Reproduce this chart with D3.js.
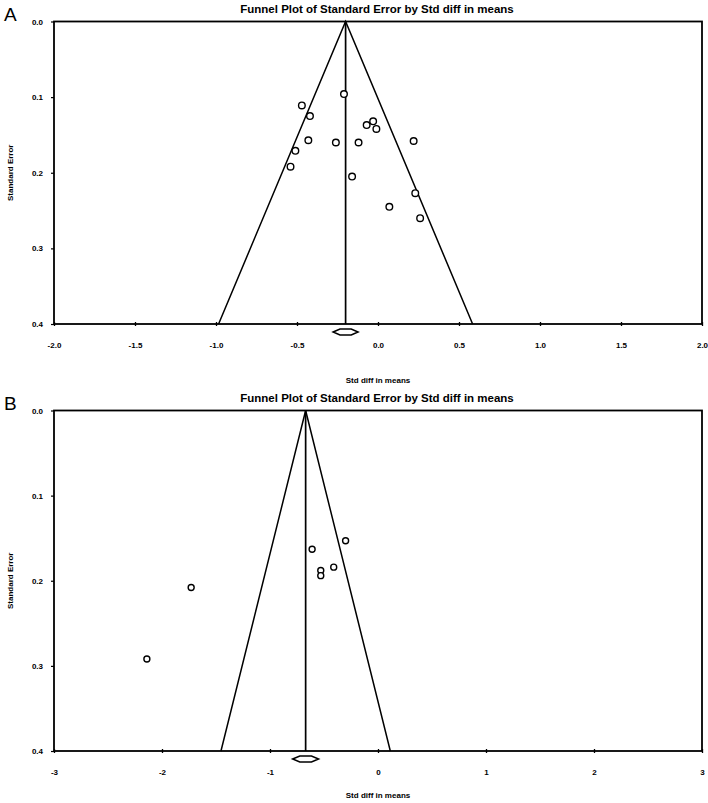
<!DOCTYPE html>
<html><head><meta charset="utf-8">
<script src="https://cdn.jsdelivr.net/npm/d3@7/dist/d3.min.js"></script>
<style>
html,body{margin:0;padding:0;background:#fff;}
svg{display:block;}
text{font-family:"Liberation Sans",Arial,sans-serif;font-weight:bold;fill:#000;}
.letter{font-family:"Liberation Sans Narrow","Liberation Sans",sans-serif;font-weight:normal;}
</style></head>
<body>
<svg id="c" width="708" height="803"></svg>
<script>
// ---- data ----
const titleText = "Funnel Plot of Standard Error by Std diff in means";
const xTitle = "Std diff in means";
const yTitle = "Standard Error";

// Panel A
const aStdDiff = [-0.21,-0.47,-0.42,-0.03,-0.07,-0.01,-0.43,-0.26,-0.12,0.22,-0.51,-0.54,-0.16,0.23,0.07,0.26];
const aSE      = [0.096,0.111,0.125,0.132,0.137,0.142,0.157,0.160,0.160,0.158,0.171,0.192,0.205,0.227,0.245,0.260];
const aPooled = -0.20;
const aPooledHalfCI = 0.077;
const aXTicks = [-2.0,-1.5,-1.0,-0.5,0.0,0.5,1.0,1.5,2.0];
const aXLabels = ["-2.0","-1.5","-1.0","-0.5","0.0","0.5","1.0","1.5","2.0"];

// Panel B
const bStdDiff = [-0.30,-0.61,-0.53,-0.53,-0.41,-1.73,-2.14];
const bSE      = [0.153,0.163,0.188,0.194,0.184,0.208,0.292];
const bPooled = -0.67;
const bPooledHalfCI = 0.12;
const bXTicks = [-3,-2,-1,0,1,2,3];
const bXLabels = ["-3","-2","-1","0","1","2","3"];

const seTicks = [0.0,0.1,0.2,0.3,0.4];
const seLabels = ["0.0","0.1","0.2","0.3","0.4"];

const svg = d3.select("#c");

function panel(cfg){
  const g = svg.append("g");
  const x = d3.scaleLinear().domain(cfg.xDomain).range([54,702]);
  const y = d3.scaleLinear().domain([0,0.4]).range([cfg.top,cfg.bottom]);

  // panel letter
  g.append("text").attr("class","letter").attr("x",4).attr("y",cfg.top-1)
    .attr("font-size",19).text(cfg.letter);
  // title
  g.append("text").attr("x",377).attr("y",cfg.top-9).attr("text-anchor","middle")
    .attr("font-size",11.5).text(titleText);

  // frame
  g.append("rect").attr("x",x.range()[0]).attr("y",cfg.top)
    .attr("width",x.range()[1]-x.range()[0]).attr("height",cfg.bottom-cfg.top)
    .attr("fill","none").attr("stroke","#000").attr("stroke-width",1.8);

  // y axis
  const yAx = d3.axisLeft(y).tickValues(seTicks).tickFormat((d,i)=>seLabels[i]).tickSize(3).tickPadding(8);
  const ya = g.append("g").attr("transform",`translate(${x.range()[0]},0)`).call(yAx);
  ya.select(".domain").remove();
  ya.selectAll("text").attr("font-size",8).attr("font-family","Liberation Sans, Arial, sans-serif").attr("font-weight","bold");
  ya.selectAll("line").attr("stroke-width",1.2);

  // x axis
  const xAx = d3.axisBottom(x).tickValues(cfg.xTicks).tickFormat((d,i)=>cfg.xLabels[i]).tickSize(2).tickPadding(16);
  const xa = g.append("g").attr("transform",`translate(0,${cfg.bottom})`).call(xAx);
  xa.select(".domain").remove();
  xa.selectAll("line").attr("y1",-2).attr("y2",2).attr("stroke-width",1.3);
  xa.selectAll("text").attr("font-size",8).attr("font-family","Liberation Sans, Arial, sans-serif").attr("font-weight","bold");

  // axis titles
  g.append("text").attr("x",378).attr("y",cfg.bottom+cfg.xTitleOff).attr("text-anchor","middle")
    .attr("font-size",8).text(xTitle);
  g.append("text").attr("transform",`translate(13,${(cfg.top+cfg.bottom)/2}) rotate(-90)`)
    .attr("text-anchor","middle").attr("font-size",8).text(yTitle);

  // funnel
  const seMax = 0.4;
  const funnel = [[cfg.pooled-1.96*seMax,seMax],[cfg.pooled,0],[cfg.pooled+1.96*seMax,seMax]];
  g.append("path").attr("d",d3.line().x(d=>x(d[0])).y(d=>y(d[1]))(funnel))
    .attr("fill","none").attr("stroke","#000").attr("stroke-width",1.5);
  g.append("line").attr("x1",x(cfg.pooled)).attr("x2",x(cfg.pooled))
    .attr("y1",y(0)).attr("y2",y(seMax)).attr("stroke","#000").attr("stroke-width",1.7);

  // points
  g.selectAll("circle.pt").data(cfg.xs).enter().append("circle").attr("class","pt")
    .attr("cx",d=>x(d)).attr("cy",(d,i)=>y(cfg.ses[i])).attr("r",cfg.r)
    .attr("fill","#fff").attr("stroke","#000").attr("stroke-width",1.4);

  // diamond
  const dy = cfg.bottom+8, h=3;
  const lo = x(cfg.pooled-cfg.half), hi = x(cfg.pooled+cfg.half), c = x(cfg.pooled);
  const pts = [[lo,dy],[lo+(c-lo)*0.55,dy-h],[hi-(hi-c)*0.55,dy-h],[hi,dy],[hi-(hi-c)*0.55,dy+h],[lo+(c-lo)*0.55,dy+h]];
  g.append("polygon").attr("points",pts.map(p=>p.join(",")).join(" "))
    .attr("fill","#fff").attr("stroke","#000").attr("stroke-width",1.5);
}

panel({letter:"A",top:21.5,bottom:324,xDomain:[-2,2],xTicks:aXTicks,xLabels:aXLabels,
  xs:aStdDiff,ses:aSE,pooled:aPooled,half:aPooledHalfCI,r:3.3,xTitleOff:59});
panel({letter:"B",top:410.5,bottom:751,xDomain:[-3,3],xTicks:bXTicks,xLabels:bXLabels,
  xs:bStdDiff,ses:bSE,pooled:bPooled,half:bPooledHalfCI,r:3,xTitleOff:47});
</script>
</body></html>
